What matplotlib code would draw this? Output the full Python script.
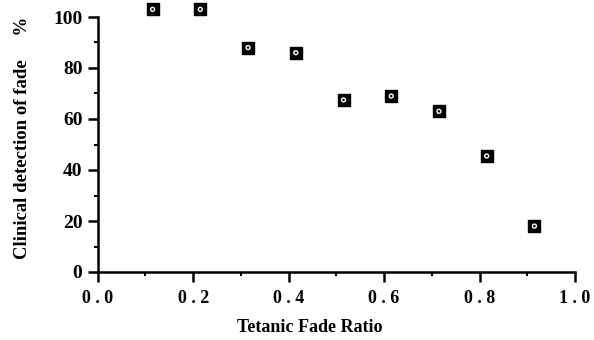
import matplotlib
matplotlib.use("Agg")
import matplotlib.pyplot as plt
from matplotlib.ticker import MultipleLocator, FuncFormatter

# dati
fade_ratio = [0.115, 0.215, 0.315, 0.415, 0.515, 0.615, 0.715, 0.815, 0.915]
detection = [103, 103, 88, 86, 67.5, 69, 63, 45.5, 18]

x_ticks = [0.0, 0.2, 0.4, 0.6, 0.8, 1.0]
y_ticks = [0, 20, 40, 60, 80, 100]

plt.rcParams['font.family'] = ['Liberation Serif', 'DejaVu Serif']
plt.rcParams['font.weight'] = 'bold'

fig = plt.figure(figsize=(5.94, 3.40), dpi=100)
ax = fig.add_axes([0.1645, 0.2, 0.968 - 0.1645, 0.7875])

# quadratino nero con cerchietto bianco
ax.scatter(fade_ratio, detection, marker='s', s=65, color='black', clip_on=False, zorder=3)
ax.scatter(fade_ratio, detection, marker='o', s=8, facecolor='none', edgecolor='white',
           linewidth=1.0, clip_on=False, zorder=4)

ax.set_xlim(0, 1.0)
ax.set_ylim(0, 105)
ax.spines['left'].set_bounds(0, 100)
ax.spines['top'].set_visible(False)
ax.spines['right'].set_visible(False)
for s in ['left', 'bottom']:
    ax.spines[s].set_linewidth(1.8)

ax.set_xticks(x_ticks)
ax.set_yticks(y_ticks)
ax.xaxis.set_minor_locator(MultipleLocator(0.1))
ax.yaxis.set_minor_locator(MultipleLocator(10))
ax.xaxis.set_major_formatter(FuncFormatter(lambda v, p: " . ".join(f"{v:.1f}".split("."))))

ax.tick_params(axis='both', which='major', direction='out', length=7, width=1.8)
ax.tick_params(axis='both', which='minor', direction='out', length=3, width=1.5)
ax.tick_params(axis='x', labelsize=13, pad=6)
ax.tick_params(axis='y', labelsize=14, pad=4)
for lab in ax.get_xticklabels() + ax.get_yticklabels():
    lab.set_fontweight('bold')

ax.set_xlabel("Tetanic Fade Ratio", fontsize=13, fontweight='bold')
ax.xaxis.set_label_coords(0.445, -0.175)
ax.set_ylabel("Clinical detection of fade     %", fontsize=13.5, fontweight='bold')
ax.yaxis.set_label_coords(-0.14, 0.5)

fig.savefig("out.png", dpi=100)
